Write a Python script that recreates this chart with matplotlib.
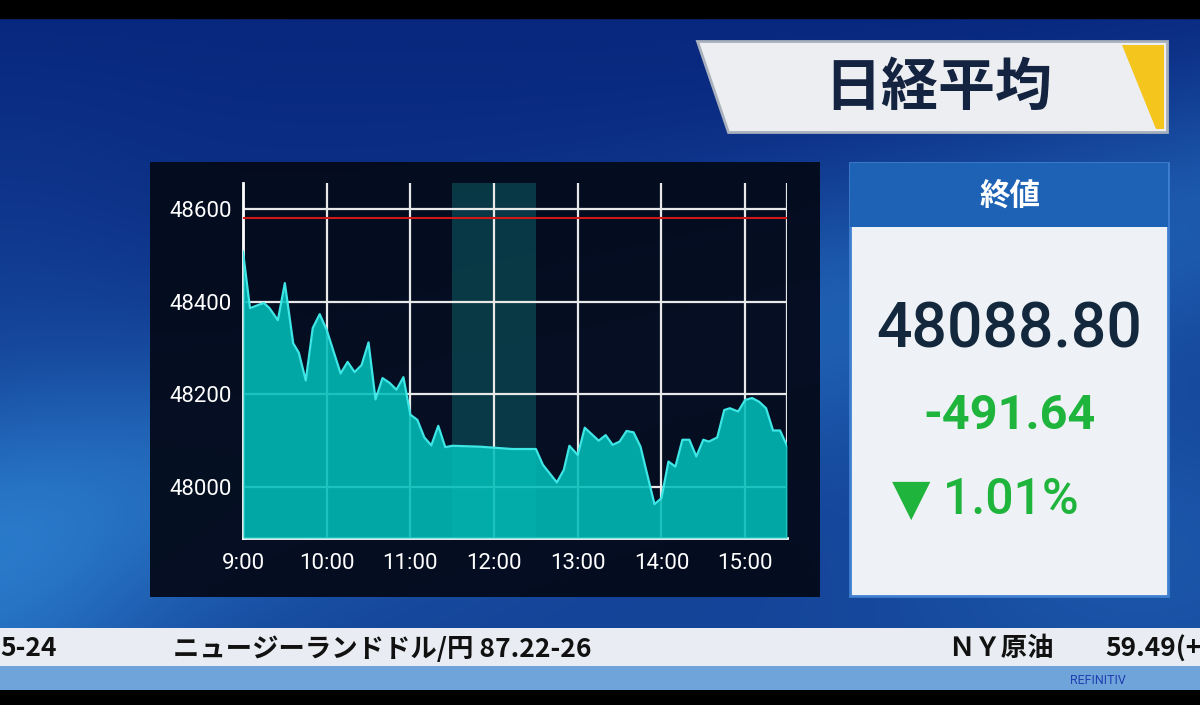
import numpy as np
import matplotlib
matplotlib.use("Agg")
from matplotlib import pyplot as plt
from matplotlib import patches

# minutes after 9:00 and Nikkei average values
minutes = [0, 5, 12, 15, 19, 25, 30, 36, 40, 45,
           50, 55, 60, 70, 75, 80, 85, 90, 95, 100,
           105, 110, 115, 120, 125, 130, 135, 140, 145, 150,
           170, 193, 210, 215, 225, 230, 234, 240, 245, 255,
           260, 265, 270, 275, 280, 285, 289, 295, 300, 305,
           310, 315, 320, 325, 330, 334, 340, 345, 349, 355,
           360, 365, 370, 375, 380, 385, 390]
prices = [48508, 48386, 48394, 48397, 48386, 48360, 48440, 48310, 48290, 48230,
          48343, 48373, 48339, 48245, 48270, 48248, 48263, 48312, 48189, 48235,
          48225, 48210, 48237, 48156, 48145, 48107, 48090, 48132, 48086, 48089,
          48087, 48082, 48082, 48048, 48010, 48037, 48089, 48069, 48128, 48100,
          48112, 48091, 48098, 48121, 48118, 48087, 48037, 47963, 47976, 48055,
          48044, 48102, 48102, 48066, 48102, 48098, 48107, 48166, 48170, 48163,
          48188, 48192, 48184, 48170, 48122, 48122, 48089]
prev_close = 48580.44
lunch = (150, 210)

x_ticks = [0, 60, 120, 180, 240, 300, 360]
x_labels = ["9:00", "10:00", "11:00", "12:00", "13:00", "14:00", "15:00"]
y_ticks = [48000, 48200, 48400, 48600]

title = "日経平均"
box_head = "終値"
close_text = "48088.80"
change_text = "-491.64"
pct_text = "▼ 1.01%"
ticker_items = [(0, "5-24"), (173, "ニュージーランドドル/円 87.22-26"),
                (948, "ＮＹ原油"), (1105, "59.49(+")]

JP = ["Noto Sans CJK JP", "DejaVu Sans"]
NUM = ["Roboto", "DejaVu Sans"]

fig = plt.figure(figsize=(12, 7.05), dpi=100)
bg = fig.add_axes([0, 0, 1, 1])
bg.set_xlim(0, 1200)
bg.set_ylim(705, 0)
bg.axis("off")

# blue studio background
yy, xx = np.mgrid[0:705, 0:1200]
xn, yn = xx / 1200, yy / 705
band = np.exp(-((yn - 0.75 + 0.45 * xn) ** 2) / 0.04)
k = 0.35 * yn + 0.45 * band + 0.25 * np.exp(-((xn - 0.95) ** 2 + (yn - 0.75) ** 2) / 0.05)
k = k + 0.25 * np.exp(-((xn) ** 2) / 0.02) * yn
k = np.clip(k, 0, 1)
dark = np.array([8, 38, 125]) / 255
light = np.array([45, 130, 210]) / 255
img = dark + (light - dark) * k[..., None]
bg.imshow(img, extent=(0, 1200, 705, 0), aspect="auto", zorder=0)

# black letterbox bars
bg.add_patch(patches.Rectangle((0, 0), 1200, 18, color="black", zorder=1))
bg.add_patch(patches.Rectangle((0, 690), 1200, 15, color="black", zorder=1))

# title plate
bg.add_patch(patches.Polygon([(697, 41), (1167, 41), (1167, 132), (728, 132)],
                             closed=True, facecolor="#eceef2", edgecolor="#a8b0bc", lw=2, zorder=2))
bg.add_patch(patches.Polygon([(1122, 45), (1164, 45), (1164, 129), (1156, 129)],
                             closed=True, facecolor="#f4c51c", edgecolor="none", zorder=3))
bg.text(938, 88, title, family=JP, fontsize=41, fontweight="bold",
        color="#14233f", ha="center", va="center", zorder=4)

# chart panel
bg.add_patch(patches.Rectangle((150, 162), 670, 435, facecolor="#040a1a", alpha=0.95, zorder=2))

# right value box
bg.add_patch(patches.Rectangle((850, 163), 318, 433, facecolor="#eef1f5",
                               edgecolor="#3f7fd0", lw=2, zorder=2))
bg.add_patch(patches.Rectangle((850, 163), 318, 64, facecolor="#1d62b5", edgecolor="none", zorder=3))
bg.text(1010, 197, box_head, family=JP, fontsize=22, fontweight="bold",
        color="white", ha="center", va="center", zorder=4)
bg.text(1009, 331, close_text, family=NUM, fontsize=45, fontweight="medium", color="#13283c",
        ha="center", va="center", zorder=4)
bg.text(1010, 416, change_text, family=NUM, fontsize=35, fontweight="bold",
        color="#1fb43c", ha="center", va="center", zorder=4)
bg.text(985, 500, pct_text, family=NUM, fontsize=36,
        fontweight="medium", color="#1fb43c", ha="center", va="center", zorder=4)

# ticker bar
bg.add_patch(patches.Rectangle((0, 628), 1200, 38, facecolor="#e9edf3", edgecolor="none", zorder=2))
bg.add_patch(patches.Rectangle((0, 666), 1200, 24, facecolor="#6ea4da", edgecolor="none", zorder=2))
for x0, txt in ticker_items:
    bg.text(x0, 649, txt, family=JP, fontsize=19, fontweight="bold",
            color="#111111", ha="left", va="center", zorder=4)
bg.text(1098, 681, "REFINITIV", family=["Roboto", "DejaVu Sans"], fontsize=9,
        color="#2040b0", ha="center", va="center", zorder=4)

# the price chart
ax = fig.add_axes([243 / 1200, 1 - 538 / 705, (787 - 243) / 1200, (538 - 183) / 705])
ax.patch.set_alpha(0)
ax.set_xlim(0, 390)
ax.set_ylim(47890, 48656)

ax.axvspan(*lunch, color="#0e6f73", alpha=0.45, lw=0, zorder=1)
for t in x_ticks + [390]:
    ax.axvline(t, color="#e8e8e8", lw=1.6, zorder=2)
for v in y_ticks:
    ax.axhline(v, color="#e8e8e8", lw=1.6, zorder=2)
ax.fill_between(minutes, prices, 47890, color="#00bdb8", alpha=0.88, lw=0, zorder=3)
ax.plot(minutes, prices, color="#3ee6e6", lw=1.6, zorder=4)
ax.axhline(prev_close, color="#d01818", lw=1.5, zorder=5)

ax.set_xticks(x_ticks)
ax.set_xticklabels(x_labels)
ax.set_yticks(y_ticks)
ax.tick_params(length=0, colors="white", labelsize=16, pad=8)
ax.tick_params(axis="x", pad=11)
for lab in ax.get_xticklabels() + ax.get_yticklabels():
    lab.set_family(["Roboto", "DejaVu Sans"])
for side in ["top", "right"]:
    ax.spines[side].set_visible(False)
ax.spines["left"].set_color("white")
ax.spines["bottom"].set_color("white")
ax.spines["left"].set_linewidth(2)
ax.spines["bottom"].set_linewidth(2)

fig.savefig("out.png", dpi=100)
